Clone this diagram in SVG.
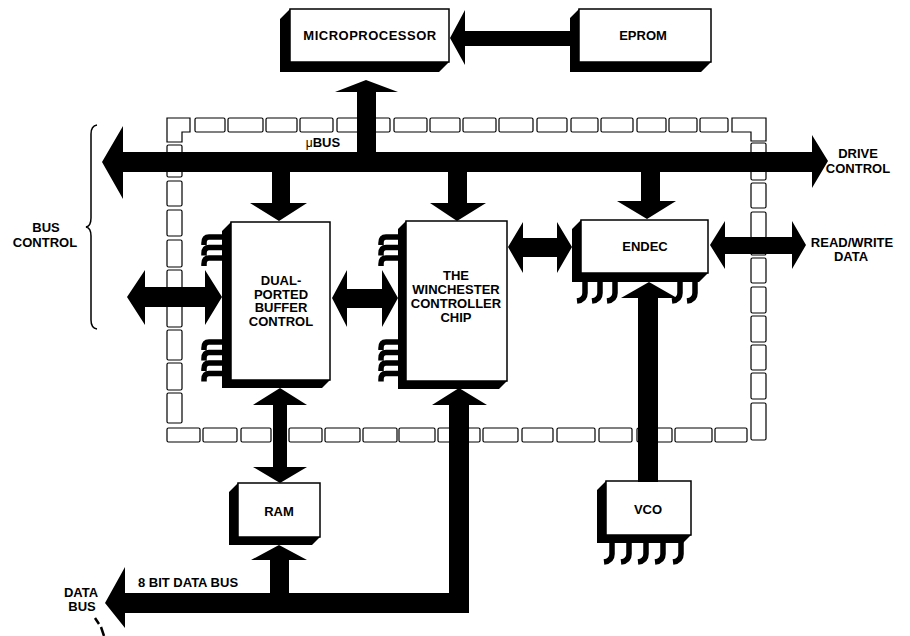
<svg xmlns="http://www.w3.org/2000/svg" width="910" height="636" viewBox="0 0 910 636">
<style>
.sh{fill:#000}
.box{fill:#fff;stroke:#000;stroke-width:1.5}
.cell{fill:#fff;stroke:#000;stroke-width:1.2}
.pin{fill:none;stroke:#000;stroke-width:5.5}
.ar{fill:#000}
text{font-family:"Liberation Sans",Arial,sans-serif;font-weight:bold;font-size:13px;fill:#000;text-anchor:middle}
</style>
<rect width="910" height="636" fill="#fff"/>

<g id="boundary">
<path class="cell" d="M167,118 H190 V132 H182 V142 H167 Z"/>
<path class="cell" d="M732,118 H766 V141 H751 V132 H732 Z"/>
<rect class="cell" x="195" y="118" width="30" height="14" rx="1.5"/>
<rect class="cell" x="228" y="118" width="35" height="14" rx="1.5"/>
<rect class="cell" x="266" y="118" width="31" height="14" rx="1.5"/>
<rect class="cell" x="300" y="118" width="33" height="14" rx="1.5"/>
<rect class="cell" x="337" y="118" width="34" height="14" rx="1.5"/>
<rect class="cell" x="374" y="118" width="16" height="14" rx="1.5"/>
<rect class="cell" x="394" y="118" width="33" height="14" rx="1.5"/>
<rect class="cell" x="430" y="118" width="30" height="14" rx="1.5"/>
<rect class="cell" x="463" y="118" width="33" height="14" rx="1.5"/>
<rect class="cell" x="499" y="118" width="34" height="14" rx="1.5"/>
<rect class="cell" x="537" y="118" width="30" height="14" rx="1.5"/>
<rect class="cell" x="571" y="118" width="27" height="14" rx="1.5"/>
<rect class="cell" x="601" y="118" width="32" height="14" rx="1.5"/>
<rect class="cell" x="637" y="118" width="29" height="14" rx="1.5"/>
<rect class="cell" x="669" y="118" width="28" height="14" rx="1.5"/>
<rect class="cell" x="700" y="118" width="28" height="14" rx="1.5"/>
<rect class="cell" x="167" y="145" width="15" height="32" rx="1.5"/>
<rect class="cell" x="167" y="181" width="15" height="25" rx="1.5"/>
<rect class="cell" x="167" y="210" width="15" height="26" rx="1.5"/>
<rect class="cell" x="167" y="240" width="15" height="27" rx="1.5"/>
<rect class="cell" x="167" y="270" width="15" height="27" rx="1.5"/>
<rect class="cell" x="167" y="300" width="15" height="27" rx="1.5"/>
<rect class="cell" x="167" y="330" width="15" height="30" rx="1.5"/>
<rect class="cell" x="167" y="363" width="15" height="27" rx="1.5"/>
<rect class="cell" x="167" y="393" width="15" height="30" rx="1.5"/>
<rect class="cell" x="167" y="428" width="33" height="14" rx="1.5"/>
<rect class="cell" x="203" y="428" width="34" height="14" rx="1.5"/>
<rect class="cell" x="241" y="428" width="30" height="14" rx="1.5"/>
<rect class="cell" x="289" y="428" width="33" height="14" rx="1.5"/>
<rect class="cell" x="325" y="428" width="35" height="14" rx="1.5"/>
<rect class="cell" x="363" y="428" width="34" height="14" rx="1.5"/>
<rect class="cell" x="399" y="428" width="36" height="14" rx="1.5"/>
<rect class="cell" x="438" y="428" width="42" height="14" rx="1.5"/>
<rect class="cell" x="483" y="428" width="35" height="14" rx="1.5"/>
<rect class="cell" x="522" y="428" width="31" height="14" rx="1.5"/>
<rect class="cell" x="557" y="428" width="38" height="14" rx="1.5"/>
<rect class="cell" x="599" y="428" width="33" height="14" rx="1.5"/>
<rect class="cell" x="637" y="428" width="35" height="14" rx="1.5"/>
<rect class="cell" x="675" y="428" width="37" height="14" rx="1.5"/>
<rect class="cell" x="715" y="428" width="32" height="14" rx="1.5"/>
<rect class="cell" x="751" y="143" width="15" height="37" rx="1.5"/>
<rect class="cell" x="751" y="183" width="15" height="25" rx="1.5"/>
<rect class="cell" x="751" y="212" width="15" height="26" rx="1.5"/>
<rect class="cell" x="751" y="241" width="15" height="14" rx="1.5"/>
<rect class="cell" x="751" y="258" width="15" height="25" rx="1.5"/>
<rect class="cell" x="751" y="287" width="15" height="26" rx="1.5"/>
<rect class="cell" x="751" y="316" width="15" height="26" rx="1.5"/>
<rect class="cell" x="751" y="345" width="15" height="25" rx="1.5"/>
<rect class="cell" x="751" y="373" width="15" height="26" rx="1.5"/>
<rect class="cell" x="751" y="403" width="15" height="37" rx="1.5"/>
</g>

<g id="microprocessor">
<polygon class="sh" points="290,9 290,62 449,62 439,72 280,72 280,19"/>
<rect class="box" x="290" y="9" width="159" height="53"/>
<text x="370" y="40" letter-spacing="0.5">MICROPROCESSOR</text>
</g>

<g id="eprom">
<polygon class="sh" points="579,9 579,62 711,62 701,72 570,72 570,18"/>
<rect class="box" x="579" y="9" width="132" height="53"/>
<text x="643" y="40">EPROM</text>
</g>

<g id="dual-ported-buffer-control">
<polygon class="sh" points="231,222 231,380 330,380 322,388 222,388 222,231"/>
<rect class="box" x="231" y="222" width="99" height="158"/>
<path class="pin" d="M223,237 H209 Q204,237 204,243 V245 M223,247.5 H209 Q204,247.5 204,253.5 V255.5 M223,258 H209 Q204,258 204,264 V266 M223,342 H209 Q204,342 204,348 V350 M223,352.5 H209 Q204,352.5 204,358.5 V360.5 M223,363 H209 Q204,363 204,369 V371 M223,373.5 H209 Q204,373.5 204,379.5 V381.5"/>
<text x="281" y="285">DUAL-</text>
<text x="281" y="298.5">PORTED</text>
<text x="281" y="312">BUFFER</text>
<text x="281" y="325.5">CONTROL</text>
</g>

<g id="winchester-controller">
<polygon class="sh" points="406,221 406,381 507,381 499,389 398,389 398,229"/>
<rect class="box" x="406" y="221" width="101" height="160"/>
<path class="pin" d="M399,237 H386 Q381,237 381,243 V245 M399,247.5 H386 Q381,247.5 381,253.5 V255.5 M399,258 H386 Q381,258 381,264 V266 M399,342 H386 Q381,342 381,348 V350 M399,352.5 H386 Q381,352.5 381,358.5 V360.5 M399,363 H386 Q381,363 381,369 V371 M399,373.5 H386 Q381,373.5 381,379.5 V381.5"/>
<text x="456" y="280">THE</text>
<text x="456" y="294">WINCHESTER</text>
<text x="456" y="308">CONTROLLER</text>
<text x="456" y="322">CHIP</text>
</g>

<g id="endec">
<polygon class="sh" points="581,220 581,273 708,273 699,282 572,282 572,229"/>
<rect class="box" x="581" y="220" width="127" height="53"/>
<path class="pin" d="M585,281 V293 Q585,300 577,301 M600,281 V293 Q600,300 592,301 M615,281 V293 Q615,300 607,301 M680,281 V293 Q680,300 672,301 M695,281 V293 Q695,300 687,301"/>
<text x="645" y="251">ENDEC</text>
</g>

<g id="ram">
<polygon class="sh" points="238,483 238,537 320,537 312,545 229,545 229,492"/>
<rect class="box" x="238" y="483" width="82" height="54"/>
<text x="279" y="516">RAM</text>
</g>

<g id="vco">
<polygon class="sh" points="606,481 606,535 691,535 683,543 597,543 597,490"/>
<rect class="box" x="606" y="481" width="85" height="54"/>
<path class="pin" d="M612,542 V554 Q612,561 604,562 M629,542 V554 Q629,561 621,562 M646,542 V554 Q646,561 638,562 M663,542 V554 Q663,561 655,562 M681,542 V554 Q681,561 673,562"/>
<text x="648" y="514">VCO</text>
</g>

<g id="connectors">
<polygon class="ar" points="570,31 465,31 465,10 450,38 465,65 465,46 570,46"/>
<polygon class="ar" points="102,162 123,126 123,152 812,152 812,135 828,161 812,188 812,172 123,172 123,199"/>
<polygon class="ar" points="357,162 357,92 335,92 366,80 398,92 376,92 376,162"/>
<polygon class="ar" points="272,170 272,203 250,203 279,221 307,203 290,203 290,170"/>
<polygon class="ar" points="448,170 448,203 430,203 457,221 486,203 467,203 467,170"/>
<polygon class="ar" points="641,170 641,201 617,201 647,219 676,201 660,201 660,170"/>
<polygon class="ar" points="127,297 145,270 145,287 205,287 205,270 222,297 205,325 205,307 145,307 145,325"/>
<polygon class="ar" points="332,298 347,270 347,289 382,289 382,270 398,298 382,327 382,308 347,308 347,327"/>
<polygon class="ar" points="508,247 523,222 523,238 557,238 557,222 572,247 557,273 557,257 523,257 523,273"/>
<polygon class="ar" points="710,245 725,221 725,237 792,237 792,221 806,245 792,269 792,254 725,254 725,269"/>
<polygon class="ar" points="280,388 307,405 287,405 287,467 307,467 280,483 253,467 273,467 273,405 253,405"/>
<polygon class="ar" points="279,545 307,560 289,560 289,594 270,594 270,560 251,560"/>
<polygon class="ar" points="105,603 125,567 125,593 449,593 449,405 432,405 459,388 487,405 469,405 469,613 125,613 125,628"/>
<polygon class="ar" points="649,282 677,298 658,298 658,482 638,482 638,298 621,298"/>
<path d="M95,618 L99,624 M101,627 L104,636" stroke="#000" stroke-width="2.5" fill="none"/>
<path d="M97,125 Q91,126 91,134 V218 Q91,226 86,227 Q91,228 91,236 V320 Q91,328 97,329" stroke="#000" stroke-width="1.5" fill="none"/>
</g>

<g id="labels">
<text x="323" y="147"><tspan font-weight="normal" font-size="12">μ</tspan>BUS</text>
<text x="858" y="158">DRIVE</text>
<text x="858" y="173">CONTROL</text>
<text x="852" y="247">READ/WRITE</text>
<text x="851" y="261">DATA</text>
<text x="46" y="232">BUS</text>
<text x="45" y="247">CONTROL</text>
<text x="188" y="587" font-size="12">8 BIT DATA BUS</text>
<text x="81" y="597">DATA</text>
<text x="82" y="611">BUS</text>
</g>
</svg>
